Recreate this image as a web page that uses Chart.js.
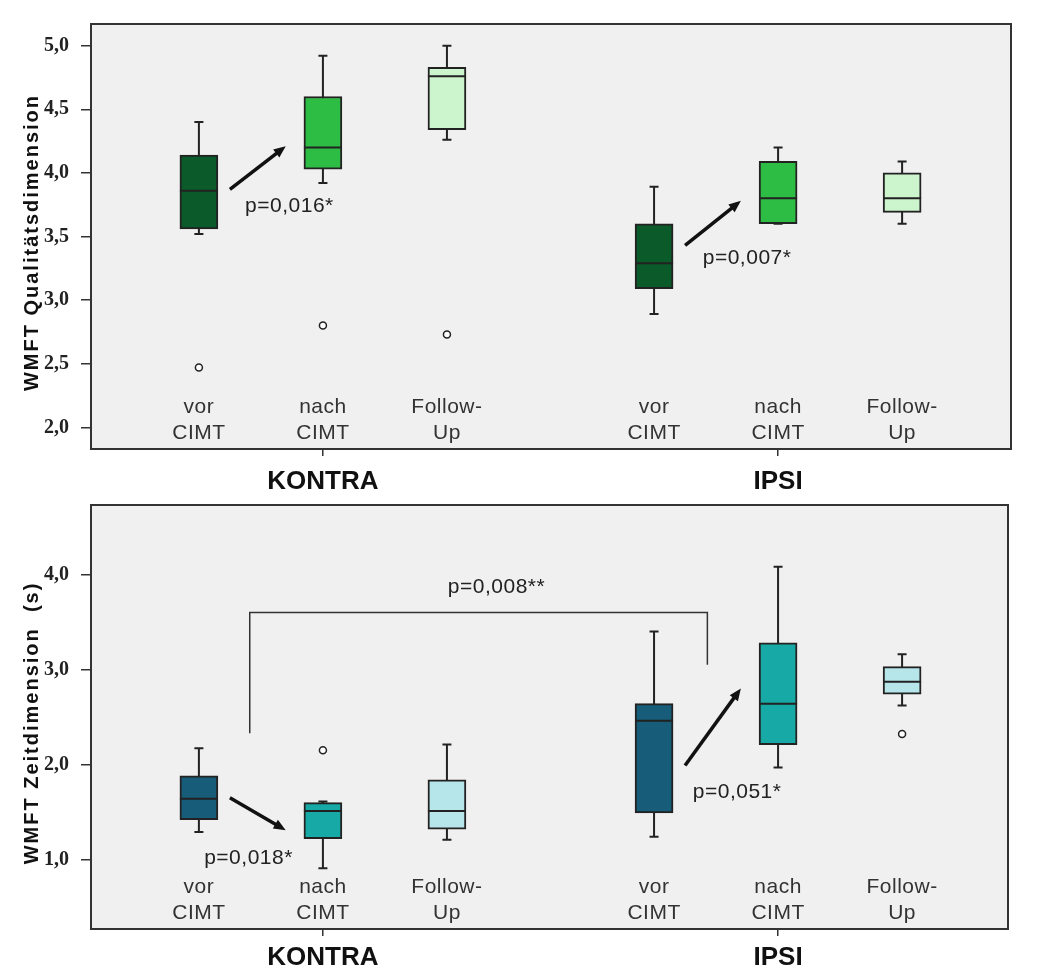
<!DOCTYPE html>
<html>
<head>
<meta charset="utf-8">
<title>WMFT</title>
<script src="https://cdn.jsdelivr.net/npm/chart.js@4.4.1/dist/chart.umd.min.js"></script>
<style>
    body { margin: 0; background: #ffffff; }
    #wrapTop { position: absolute; left: 0; top: 0; width: 1037px; height: 497px; }
    #wrapBottom { position: absolute; left: 0; top: 497px; width: 1037px; height: 477px; }
</style>
</head>
<body>
<div id="wrapTop"><canvas id="qualChart" width="1037" height="497"></canvas></div>
<div id="wrapBottom"><canvas id="zeitChart" width="1037" height="477"></canvas></div>
<script>
// Gruppen und Messzeitpunkte
const groups = ['KONTRA', 'IPSI'];
const phases = [['vor', 'CIMT'], ['nach', 'CIMT'], ['Follow-', 'Up']];

// WMFT Qualitaetsdimension (je Box: KONTRA vor/nach/FU, IPSI vor/nach/FU)
const qualMin = [3.52, 3.92, 4.26, 2.89, 3.60, 3.60];
const qualQ1 = [3.56, 4.03, 4.34, 3.09, 3.60, 3.69];
const qualMedian = [3.86, 4.20, 4.76, 3.29, 3.80, 3.80];
const qualQ3 = [4.14, 4.60, 4.83, 3.60, 4.09, 4.00];
const qualMax = [4.40, 4.92, 5.00, 3.89, 4.20, 4.09];
const qualOutliers = [[2.47], [2.80], [2.73], [], [], []];
const qualTicks = [2.0, 2.5, 3.0, 3.5, 4.0, 4.5, 5.0];

// WMFT Zeitdimension (s)
const zeitMin = [1.29, 0.91, 1.21, 1.24, 1.97, 2.62];
const zeitQ1 = [1.42, 1.22, 1.32, 1.49, 2.21, 2.74];
const zeitMedian = [1.64, 1.51, 1.51, 2.46, 2.64, 2.87];
const zeitQ3 = [1.88, 1.60, 1.84, 2.64, 3.28, 3.03];
const zeitMax = [2.17, 1.61, 2.21, 3.40, 4.08, 3.16];
const zeitOutliers = [[], [2.15], [], [], [], [2.32]];
const zeitTicks = [1.0, 2.0, 3.0, 4.0];

// Signifikanzen
const qualTests = [
    { from: 0, y0: 3.87, y1: 4.21, label: 'p=0,016*', tx: 0.73, ty: 3.74 },
    { from: 3, y0: 3.43, y1: 3.78, label: 'p=0,007*', tx: 0.75, ty: 3.33 }
];
const zeitTests = [
    { from: 0, y0: 1.65, y1: 1.31, label: 'p=0,018*', tx: 0.40, ty: 1.01 },
    { from: 3, y0: 1.99, y1: 2.80, label: 'p=0,051*', tx: 0.67, ty: 1.71 }
];

const GROUP_STEP = 3.67;
function boxPos(i) {
    return (i % 3) + Math.floor(i / 3) * GROUP_STEP;
}

function fmt(v) {
    return v.toFixed(1).replace('.', ',');
}

const TEXT_FONT = '21px "Liberation Sans", Arial, sans-serif';

// Plugin: Hintergrund, Whisker, Median, Rahmen, Beschriftungen
const boxplotPlugin = {
    id: 'boxplot',
    beforeDraw(chart) {
        const a = chart.chartArea;
        const ctx = chart.ctx;
        ctx.save();
        ctx.fillStyle = '#f0f0f0';
        ctx.fillRect(a.left, a.top, a.right - a.left, a.bottom - a.top);
        ctx.restore();
    },
    beforeDatasetsDraw(chart, args, opts) {
        const ctx = chart.ctx;
        const x = chart.scales.x, y = chart.scales.y;
        ctx.save();
        ctx.strokeStyle = '#222';
        ctx.lineWidth = 2;
        opts.min.forEach(function (v, i) {
            const px = x.getPixelForValue(boxPos(i));
            const yMin = y.getPixelForValue(v), yMax = y.getPixelForValue(opts.max[i]);
            ctx.beginPath();
            ctx.moveTo(px, yMin); ctx.lineTo(px, yMax);
            ctx.moveTo(px - 4.5, yMin); ctx.lineTo(px + 4.5, yMin);
            ctx.moveTo(px - 4.5, yMax); ctx.lineTo(px + 4.5, yMax);
            ctx.stroke();
        });
        // Klammer fuer Gruppenvergleich
        if (opts.bracket) {
            const b = opts.bracket;
            const xl = x.getPixelForValue(b.x0), xr = x.getPixelForValue(b.x1);
            const yt = y.getPixelForValue(b.top);
            ctx.lineWidth = 1.5;
            ctx.strokeStyle = '#333';
            ctx.beginPath();
            ctx.moveTo(xl, y.getPixelForValue(b.left));
            ctx.lineTo(xl, yt);
            ctx.lineTo(xr, yt);
            ctx.lineTo(xr, y.getPixelForValue(b.right));
            ctx.stroke();
            ctx.fillStyle = '#222';
            ctx.font = TEXT_FONT;
            ctx.letterSpacing = '0.5px';
            ctx.textAlign = 'center';
            ctx.textBaseline = 'middle';
            ctx.fillText(b.label, x.getPixelForValue(b.tx), y.getPixelForValue(b.ty));
        }
        ctx.restore();
    },
    afterDatasetsDraw(chart, args, opts) {
        const ctx = chart.ctx;
        const x = chart.scales.x, y = chart.scales.y;
        const a = chart.chartArea;
        ctx.save();
        // Median
        ctx.strokeStyle = '#222';
        ctx.lineWidth = 2;
        opts.median.forEach(function (v, i) {
            const px = x.getPixelForValue(boxPos(i));
            const py = y.getPixelForValue(v);
            ctx.beginPath();
            ctx.moveTo(px - 19, py); ctx.lineTo(px + 19, py);
            ctx.stroke();
        });
        // Pfeile und p-Werte
        opts.tests.forEach(function (t) {
            const x0 = x.getPixelForValue(boxPos(t.from) + 0.25);
            const x1 = x.getPixelForValue(boxPos(t.from) + 0.70);
            const y0 = y.getPixelForValue(t.y0), y1 = y.getPixelForValue(t.y1);
            const ang = Math.atan2(y1 - y0, x1 - x0);
            const head = 13;
            ctx.fillStyle = '#111';
            ctx.strokeStyle = '#111';
            ctx.lineWidth = 3.5;
            ctx.beginPath();
            ctx.moveTo(x0, y0);
            ctx.lineTo(x1 - Math.cos(ang) * head * 0.8, y1 - Math.sin(ang) * head * 0.8);
            ctx.stroke();
            ctx.beginPath();
            ctx.moveTo(x1, y1);
            ctx.lineTo(x1 - head * Math.cos(ang - 0.4), y1 - head * Math.sin(ang - 0.4));
            ctx.lineTo(x1 - head * Math.cos(ang + 0.4), y1 - head * Math.sin(ang + 0.4));
            ctx.closePath();
            ctx.fill();
            ctx.fillStyle = '#222';
            ctx.font = TEXT_FONT;
            ctx.letterSpacing = '0.5px';
            ctx.textAlign = 'center';
            ctx.textBaseline = 'middle';
            ctx.fillText(t.label, x.getPixelForValue(boxPos(t.from) + t.tx), y.getPixelForValue(t.ty));
        });
        // Messzeitpunkte im Diagramm
        ctx.fillStyle = '#333';
        ctx.font = TEXT_FONT;
        ctx.letterSpacing = '0.5px';
        ctx.textAlign = 'center';
        ctx.textBaseline = 'middle';
        for (let i = 0; i < 6; i++) {
            const lines = phases[i % 3];
            const px = x.getPixelForValue(boxPos(i));
            ctx.fillText(lines[0], px, a.bottom - 42);
            ctx.fillText(lines[1], px, a.bottom - 16);
        }
        // Rahmen
        ctx.strokeStyle = '#333';
        ctx.lineWidth = 2;
        ctx.strokeRect(a.left, a.top, a.right - a.left, a.bottom - a.top);
        ctx.restore();
    },
    afterDraw(chart, args, opts) {
        // Achsentitel, gesperrt gesetzt
        const ctx = chart.ctx;
        const a = chart.chartArea;
        ctx.save();
        ctx.translate(32, (a.top + a.bottom) / 2 + 6);
        ctx.rotate(-Math.PI / 2);
        ctx.fillStyle = '#111';
        ctx.font = 'bold 20px "Liberation Sans", Arial, sans-serif';
        ctx.letterSpacing = '2px';
        ctx.textAlign = 'center';
        ctx.textBaseline = 'middle';
        ctx.fillText(opts.title, 0, 0);
        ctx.restore();
    }
};

function makePanel(canvasId, p) {
    const boxData = p.q1.map(function (v, i) {
        return { x: boxPos(i), y: [v, p.q3[i]] };
    });
    const outlierData = [];
    p.outliers.forEach(function (list, i) {
        list.forEach(function (v) { outlierData.push({ x: boxPos(i), y: v }); });
    });

    new Chart(document.getElementById(canvasId).getContext('2d'), {
        type: 'bar',
        data: {
            datasets: [
                {
                    type: 'bar',
                    data: boxData,
                    backgroundColor: p.colors.concat(p.colors),
                    borderColor: '#222',
                    borderWidth: 2,
                    borderSkipped: false,
                    barThickness: 38,
                    grouped: false,
                    order: 2
                },
                {
                    type: 'scatter',
                    data: outlierData,
                    pointRadius: 3.5,
                    pointBackgroundColor: '#ffffff',
                    pointBorderColor: '#222',
                    pointBorderWidth: 1.5,
                    order: 1
                }
            ]
        },
        options: {
            responsive: false,
            animation: false,
            layout: { padding: p.padding },
            scales: {
                x: {
                    type: 'linear',
                    offset: false,
                    min: -0.87,
                    max: p.xMax,
                    afterBuildTicks: function (scale) {
                        scale.ticks = [{ value: boxPos(1) }, { value: boxPos(4) }];
                    },
                    afterFit: function (scale) {
                        scale.height = p.xHeight;
                        scale.paddingLeft = 0;
                        scale.paddingRight = 0;
                    },
                    border: { display: false },
                    grid: { offset: false, drawOnChartArea: false, tickLength: 7, color: '#333', lineWidth: 1.5 },
                    ticks: {
                        autoSkip: false,
                        maxRotation: 0,
                        padding: p.xPad,
                        color: '#111',
                        font: { family: '"Liberation Sans", Arial, sans-serif', size: 26, weight: 'bold' },
                        callback: function (value) {
                            return value < 2 ? groups[0] : groups[1];
                        }
                    }
                },
                y: {
                    min: p.yMin,
                    max: p.yMax,
                    afterBuildTicks: function (scale) {
                        scale.ticks = p.ticks.map(function (v) { return { value: v }; });
                    },
                    afterFit: function (scale) {
                        scale.width = 91;
                        scale.paddingTop = 0;
                        scale.paddingBottom = 0;
                    },
                    border: { display: false },
                    grid: { drawOnChartArea: false, tickLength: 10, color: '#333', lineWidth: 1.5 },
                    ticks: {
                        padding: 12,
                        color: '#222',
                        font: { family: '"Liberation Serif", "Times New Roman", serif', size: 20, weight: 'bold' },
                        callback: function (value) { return fmt(value); }
                    }
                }
            },
            plugins: {
                legend: { display: false },
                tooltip: { enabled: false },
                boxplot: {
                    title: p.title,
                    min: p.min,
                    max: p.max,
                    median: p.median,
                    tests: p.tests,
                    bracket: p.bracket
                }
            }
        },
        plugins: [boxplotPlugin]
    });
}

// Oberes Diagramm: Qualitaetsdimension
makePanel('qualChart', {
    title: 'WMFT Qualitätsdimension',
    min: qualMin, q1: qualQ1, median: qualMedian, q3: qualQ3, max: qualMax,
    outliers: qualOutliers, ticks: qualTicks, tests: qualTests,
    colors: ['#0b5a2a', '#2ebd44', '#cdf5cd'],
    yMin: 1.83, yMax: 5.17, xMax: 6.548,
    padding: { top: 24, right: 26, left: 0, bottom: 0 },
    xHeight: 48, xPad: 10
});

// Unteres Diagramm: Zeitdimension
makePanel('zeitChart', {
    title: 'WMFT Zeitdimension  (s)',
    min: zeitMin, q1: zeitQ1, median: zeitMedian, q3: zeitQ3, max: zeitMax,
    outliers: zeitOutliers, ticks: zeitTicks, tests: zeitTests,
    colors: ['#175c78', '#17a9a5', '#b6e6ea'],
    yMin: 0.27, yMax: 4.73, xMax: 6.524,
    padding: { top: 8, right: 29, left: 0, bottom: 0 },
    xHeight: 45, xPad: 6,
    bracket: { x0: 0.41, x1: 4.10, top: 3.6, left: 2.33, right: 3.05, label: 'p=0,008**', tx: 2.40, ty: 3.87 }
});
</script>
</body>
</html>
